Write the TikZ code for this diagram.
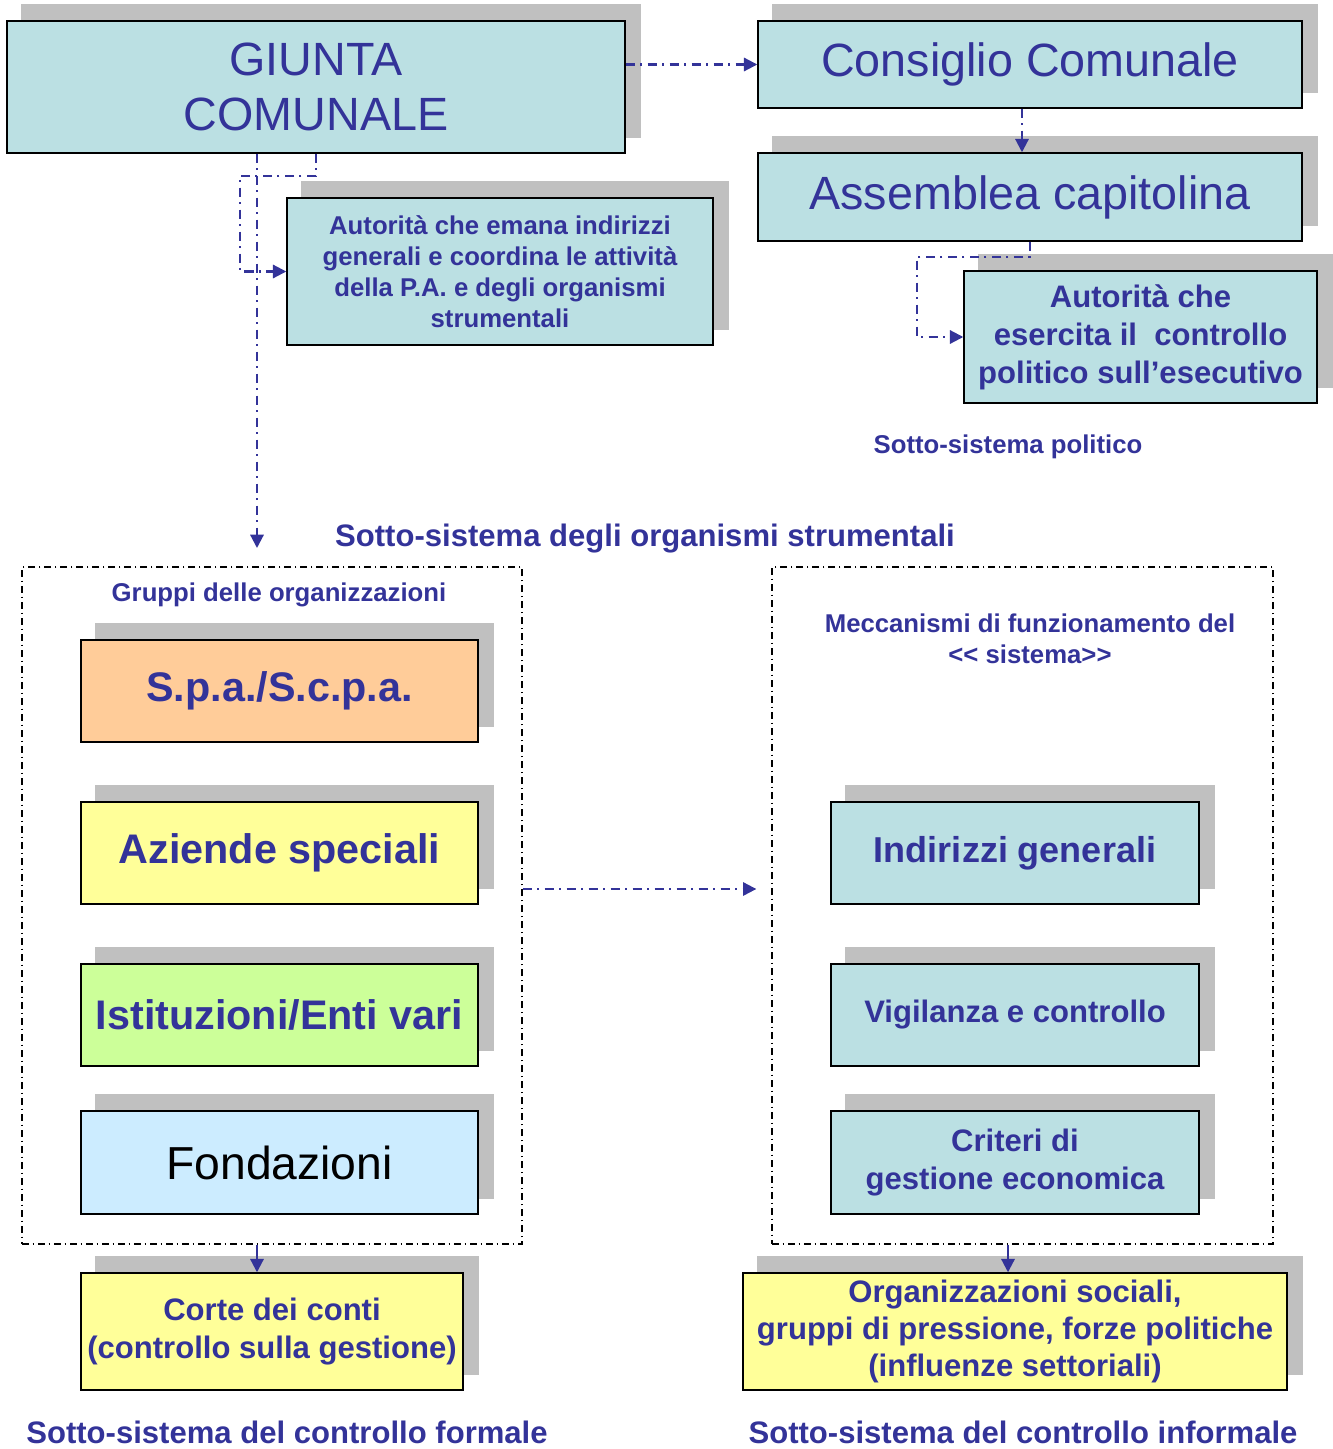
\documentclass[tikz,border=0pt]{standalone}
\usepackage{fontspec}
\setmainfont{Liberation Sans}
\usetikzlibrary{arrows.meta, calc, backgrounds}
\definecolor{boxteal}{RGB}{187,224,227}
\definecolor{txtblue}{RGB}{51,51,153}
\definecolor{shadowgray}{RGB}{192,192,192}
\definecolor{spaorange}{RGB}{255,204,153}
\definecolor{boxyellow}{RGB}{255,255,153}
\definecolor{boxgreen}{RGB}{204,255,153}
\definecolor{boxsky}{RGB}{204,236,255}

\begin{document}
\begin{tikzpicture}[x=0.75pt,y=0.75pt,yscale=-1,xscale=1,
  boxsize/.style 2 args={minimum width=#1*0.75pt, minimum height=#2*0.75pt},
  box/.style={draw=black, line width=1.1pt, fill=boxteal, inner sep=0pt, align=center, text=txtblue,
    font=\fontsize{23.3}{28}\selectfont\bfseries},
  bigtext/.style={font=\fontsize{35}{41}\selectfont},
  smalltext/.style={font=\fontsize{19.3}{23.25}\selectfont\bfseries},
  largetext/.style={font=\fontsize{31}{36}\selectfont\bfseries},
  frame/.style={draw=black, line width=1pt, dash pattern=on 5pt off 3pt on 1pt off 3pt, inner sep=0pt},
  flow/.style={draw=txtblue, line width=1.6pt, dash pattern=on 7pt off 4pt on 1.5pt off 4pt,
    -{Triangle[length=10pt,width=10pt]}},
  solidflow/.style={draw=txtblue, line width=1.6pt, -{Triangle[length=10pt,width=10pt]}},
  caplabel/.style={text=txtblue, inner sep=0pt, align=center, font=\fontsize{23.3}{28}\selectfont\bfseries}
]
\path[use as bounding box] (0,0) rectangle (1333,1449);

% Sotto-sistema politico
\node[box, bigtext, boxsize={618}{132}] (giunta) at (316,87) {GIUNTA\\COMUNALE};
\node[box, bigtext, boxsize={544}{87}] (consiglio) at (1030,64.5) {Consiglio Comunale};
\node[box, bigtext, boxsize={544}{88}] (assemblea) at (1030,197) {Assemblea capitolina};
\node[box, smalltext, boxsize={426}{147}] (autgiunta) at (500,271.5)
  {Autorità che emana indirizzi\\generali e coordina le attività\\della P.A. e degli organismi\\strumentali};
\node[box, font=\fontsize{23.3}{28.5}\selectfont\bfseries, boxsize={353}{132}] (autpol) at (1140.5,337)
  {Autorità che\\esercita il~ controllo\\politico sull’esecutivo};
\node[caplabel, smalltext] (politico) at (1008,447) {Sotto-sistema politico};

% Sotto-sistema degli organismi strumentali
\node[caplabel] (strumentali) at (645,539) {Sotto-sistema degli organismi strumentali};
\node[frame, boxsize={500}{677}] (leftframe) at (272,905.5) {};
\node[frame, boxsize={501}{677}] (rightframe) at (1022.5,905.5) {};
\node[caplabel, smalltext] (gruppi) at (279,595) {Gruppi delle organizzazioni};
\node[caplabel, smalltext] (meccanismi) at (1030,639) {Meccanismi di funzionamento del\\<{}< sistema>{}>};

\node[box, largetext, fill=spaorange, boxsize={397}{102}] (spa) at (279.5,691) {S.p.a./S.c.p.a.};
\node[box, largetext, fill=boxyellow, boxsize={397}{102}] (aziende) at (279.5,853) {Aziende speciali};
\node[box, largetext, fill=boxgreen, boxsize={397}{102}] (istituzioni) at (279.5,1015) {Istituzioni/Enti vari};
\node[box, fill=boxsky, text=black, font=\fontsize{34.7}{40}\selectfont, boxsize={397}{103}] (fondazioni) at (279.5,1162.5) {Fondazioni};

\node[box, font=\fontsize{27}{32}\selectfont\bfseries, boxsize={368}{102}] (indirizzi) at (1015,853) {Indirizzi generali};
\node[box, boxsize={368}{102}] (vigilanza) at (1015,1015) {Vigilanza e controllo};
\node[box, boxsize={368}{103}] (criteri) at (1015,1162.5) {Criteri di\\gestione economica};

% Sotto-sistemi di controllo
\node[box, fill=boxyellow, boxsize={382}{117}] (corte) at (272,1331.5) {Corte dei conti\\(controllo sulla gestione)};
\node[box, fill=boxyellow, boxsize={544}{117}] (organizz) at (1015,1331.5)
  {Organizzazioni sociali,\\gruppi di pressione, forze politiche\\(influenze settoriali)};
\node[caplabel] (formale) at (287,1432) {Sotto-sistema del controllo formale};
\node[caplabel] (informale) at (1023,1432) {Sotto-sistema del controllo informale};

% ombre
\begin{scope}[on background layer]
\foreach \n in {giunta,consiglio,assemblea,autgiunta,autpol,spa,aziende,istituzioni,fondazioni,indirizzi,vigilanza,criteri,corte,organizz}
  \fill[shadowgray] ($(\n.south west)+(15,-16)$) rectangle ($(\n.north east)+(15,-16)$);
\end{scope}

% connettori
\coordinate (orgtop) at (257,548);
\draw[flow] (giunta.east |- consiglio.west) -- (consiglio.west);
\draw[flow] ($(consiglio.south)+(-8,0)$) -- ($(assemblea.north)+(-8,0)$);
\draw[flow] (giunta.south) -- ++(0,22) -- ++(-76,0) |- (autgiunta.west);
\draw[flow] ($(giunta.south)+(-59,0)$) -- (orgtop);
\draw[flow] (assemblea.south) -- ++(0,15) -- ++(-113,0) |- (autpol.west);
\draw[flow] ($(leftframe.east)+(0,-16.5)$) -- ($(rightframe.west)+(-15,-16.5)$);
\draw[solidflow] ($(leftframe.south)+(-15,0)$) coordinate (lf) -- (lf |- corte.north);
\draw[solidflow] ($(rightframe.south)+(-14.5,0)$) coordinate (rf) -- (rf |- organizz.north);

\end{tikzpicture}
\end{document}
